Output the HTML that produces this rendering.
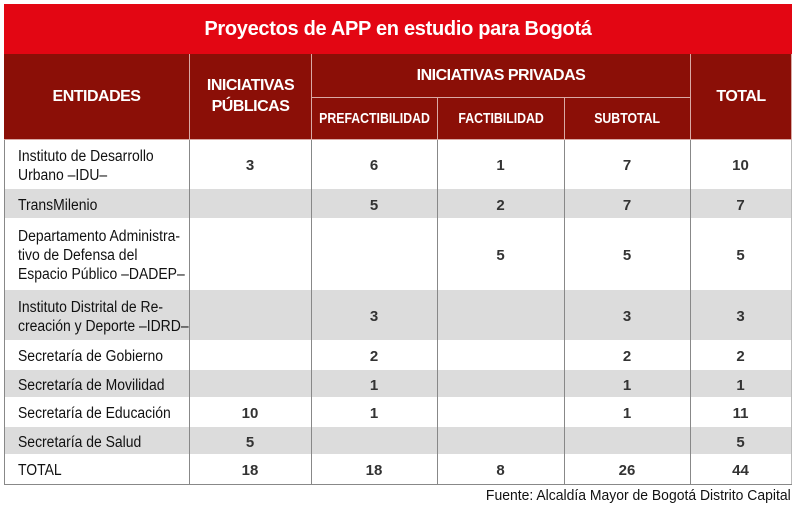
<!DOCTYPE html>
<html><head><meta charset="utf-8"><style>
body{margin:0;width:800px;height:529px;background:#fff;position:relative;font-family:"Liberation Sans",sans-serif;overflow:hidden}
div{position:absolute;box-sizing:border-box}
.t{left:4px;top:4px;width:788px;height:50px;background:#e30613;color:#fff;font-weight:bold;font-size:20px;text-align:center;line-height:50px;letter-spacing:-0.3px}
.h{background:#8b0f07;color:#fff;font-weight:bold;display:flex;align-items:center;justify-content:center;text-align:center;border-right:1px solid #d9a9a5;border-bottom:1px solid #d9a9a5;font-size:15px}
.h span{display:inline-block;transform:scaleX(.82);white-space:nowrap}
.h.b span{font-size:16px;transform:scaleX(1);letter-spacing:-0.5px}
.r{left:4px;width:788px;border-bottom:1px solid #fff}
.g{background:#dcdcdc}
.c{font-size:15.5px;color:#111;display:flex;align-items:center}
.c .in{position:static;flex-shrink:0;white-space:nowrap;width:200px;transform:scaleX(.9);transform-origin:left center;line-height:19px}
.n{font-weight:bold;justify-content:center;font-size:15px;color:#333}
.v{top:140px;height:344px;width:1px;background:#888}
</style></head><body>
<div class="t">Proyectos de APP en estudio para Bogotá</div>
<div class="h b" style="left:4px;top:54px;width:186px;height:86px"><span>ENTIDADES</span></div>
<div class="h b" style="left:190px;top:54px;width:122px;height:86px;line-height:1.3"><span>INICIATIVAS<br>PÚBLICAS</span></div>
<div class="h b" style="left:312px;top:54px;width:379px;height:44px"><span>INICIATIVAS PRIVADAS</span></div>
<div class="h" style="left:312px;top:98px;width:126px;height:42px"><span>PREFACTIBILIDAD</span></div>
<div class="h" style="left:438px;top:98px;width:127px;height:42px"><span>FACTIBILIDAD</span></div>
<div class="h" style="left:565px;top:98px;width:126px;height:42px"><span>SUBTOTAL</span></div>
<div class="h b" style="left:691px;top:54px;width:101px;height:86px"><span>TOTAL</span></div>
<div class="r g" style="top:189px;height:30px"></div>
<div class="r g" style="top:290px;height:51px"></div>
<div class="r g" style="top:370px;height:28px"></div>
<div class="r g" style="top:427px;height:28px"></div>
<div style="left:4px;top:140px;width:1px;height:344px;background:#888"></div>
<div style="left:791px;top:140px;width:1px;height:344px;background:#bbb"></div>
<div class="v" style="left:189px"></div><div class="v" style="left:311px"></div><div class="v" style="left:437px"></div><div class="v" style="left:564px"></div><div class="v" style="left:690px"></div>
<div style="left:4px;top:484px;width:788px;height:1px;background:#888"></div>
<div id="rows"></div>
<script>
var rows=[[140,49,"Instituto de Desarrollo<br>Urbano –IDU–","3","6","1","7","10"],
[189,30,"TransMilenio","","5","2","7","7"],
[219,71,"Departamento Administra-<br>tivo de Defensa del<br>Espacio Público –DADEP–","","","5","5","5"],
[290,51,"Instituto Distrital de Re-<br>creación y Deporte –IDRD–","","3","","3","3"],
[341,29,"Secretaría de Gobierno","","2","","2","2"],
[370,28,"Secretaría de Movilidad","","1","","1","1"],
[398,29,"Secretaría de Educación","10","1","","1","11"],
[427,28,"Secretaría de Salud","5","","","","5"],
[455,29,"TOTAL","18","18","8","26","44"]];
var xs=[[18,170],[189,122],[311,126],[437,127],[564,126],[690,101]];
var h="";
rows.forEach(function(r){for(var i=0;i<6;i++){var t=r[i+2];
var top=r[0]+1,ht=r[1];
if(i==0) h+='<div class="c" style="left:'+xs[i][0]+'px;width:'+xs[i][1]+'px;top:'+top+'px;height:'+ht+'px"><div class="in">'+t+'</div></div>';
else h+='<div class="c n" style="left:'+xs[i][0]+'px;width:'+xs[i][1]+'px;top:'+top+'px;height:'+ht+'px">'+t+'</div>';}});
document.getElementById("rows").outerHTML=h;
</script>
<div style="right:9px;top:487px;font-size:15px;color:#111;transform:scaleX(.93);transform-origin:right top;white-space:nowrap">Fuente: Alcaldía Mayor de Bogotá Distrito Capital</div>
</body></html>
